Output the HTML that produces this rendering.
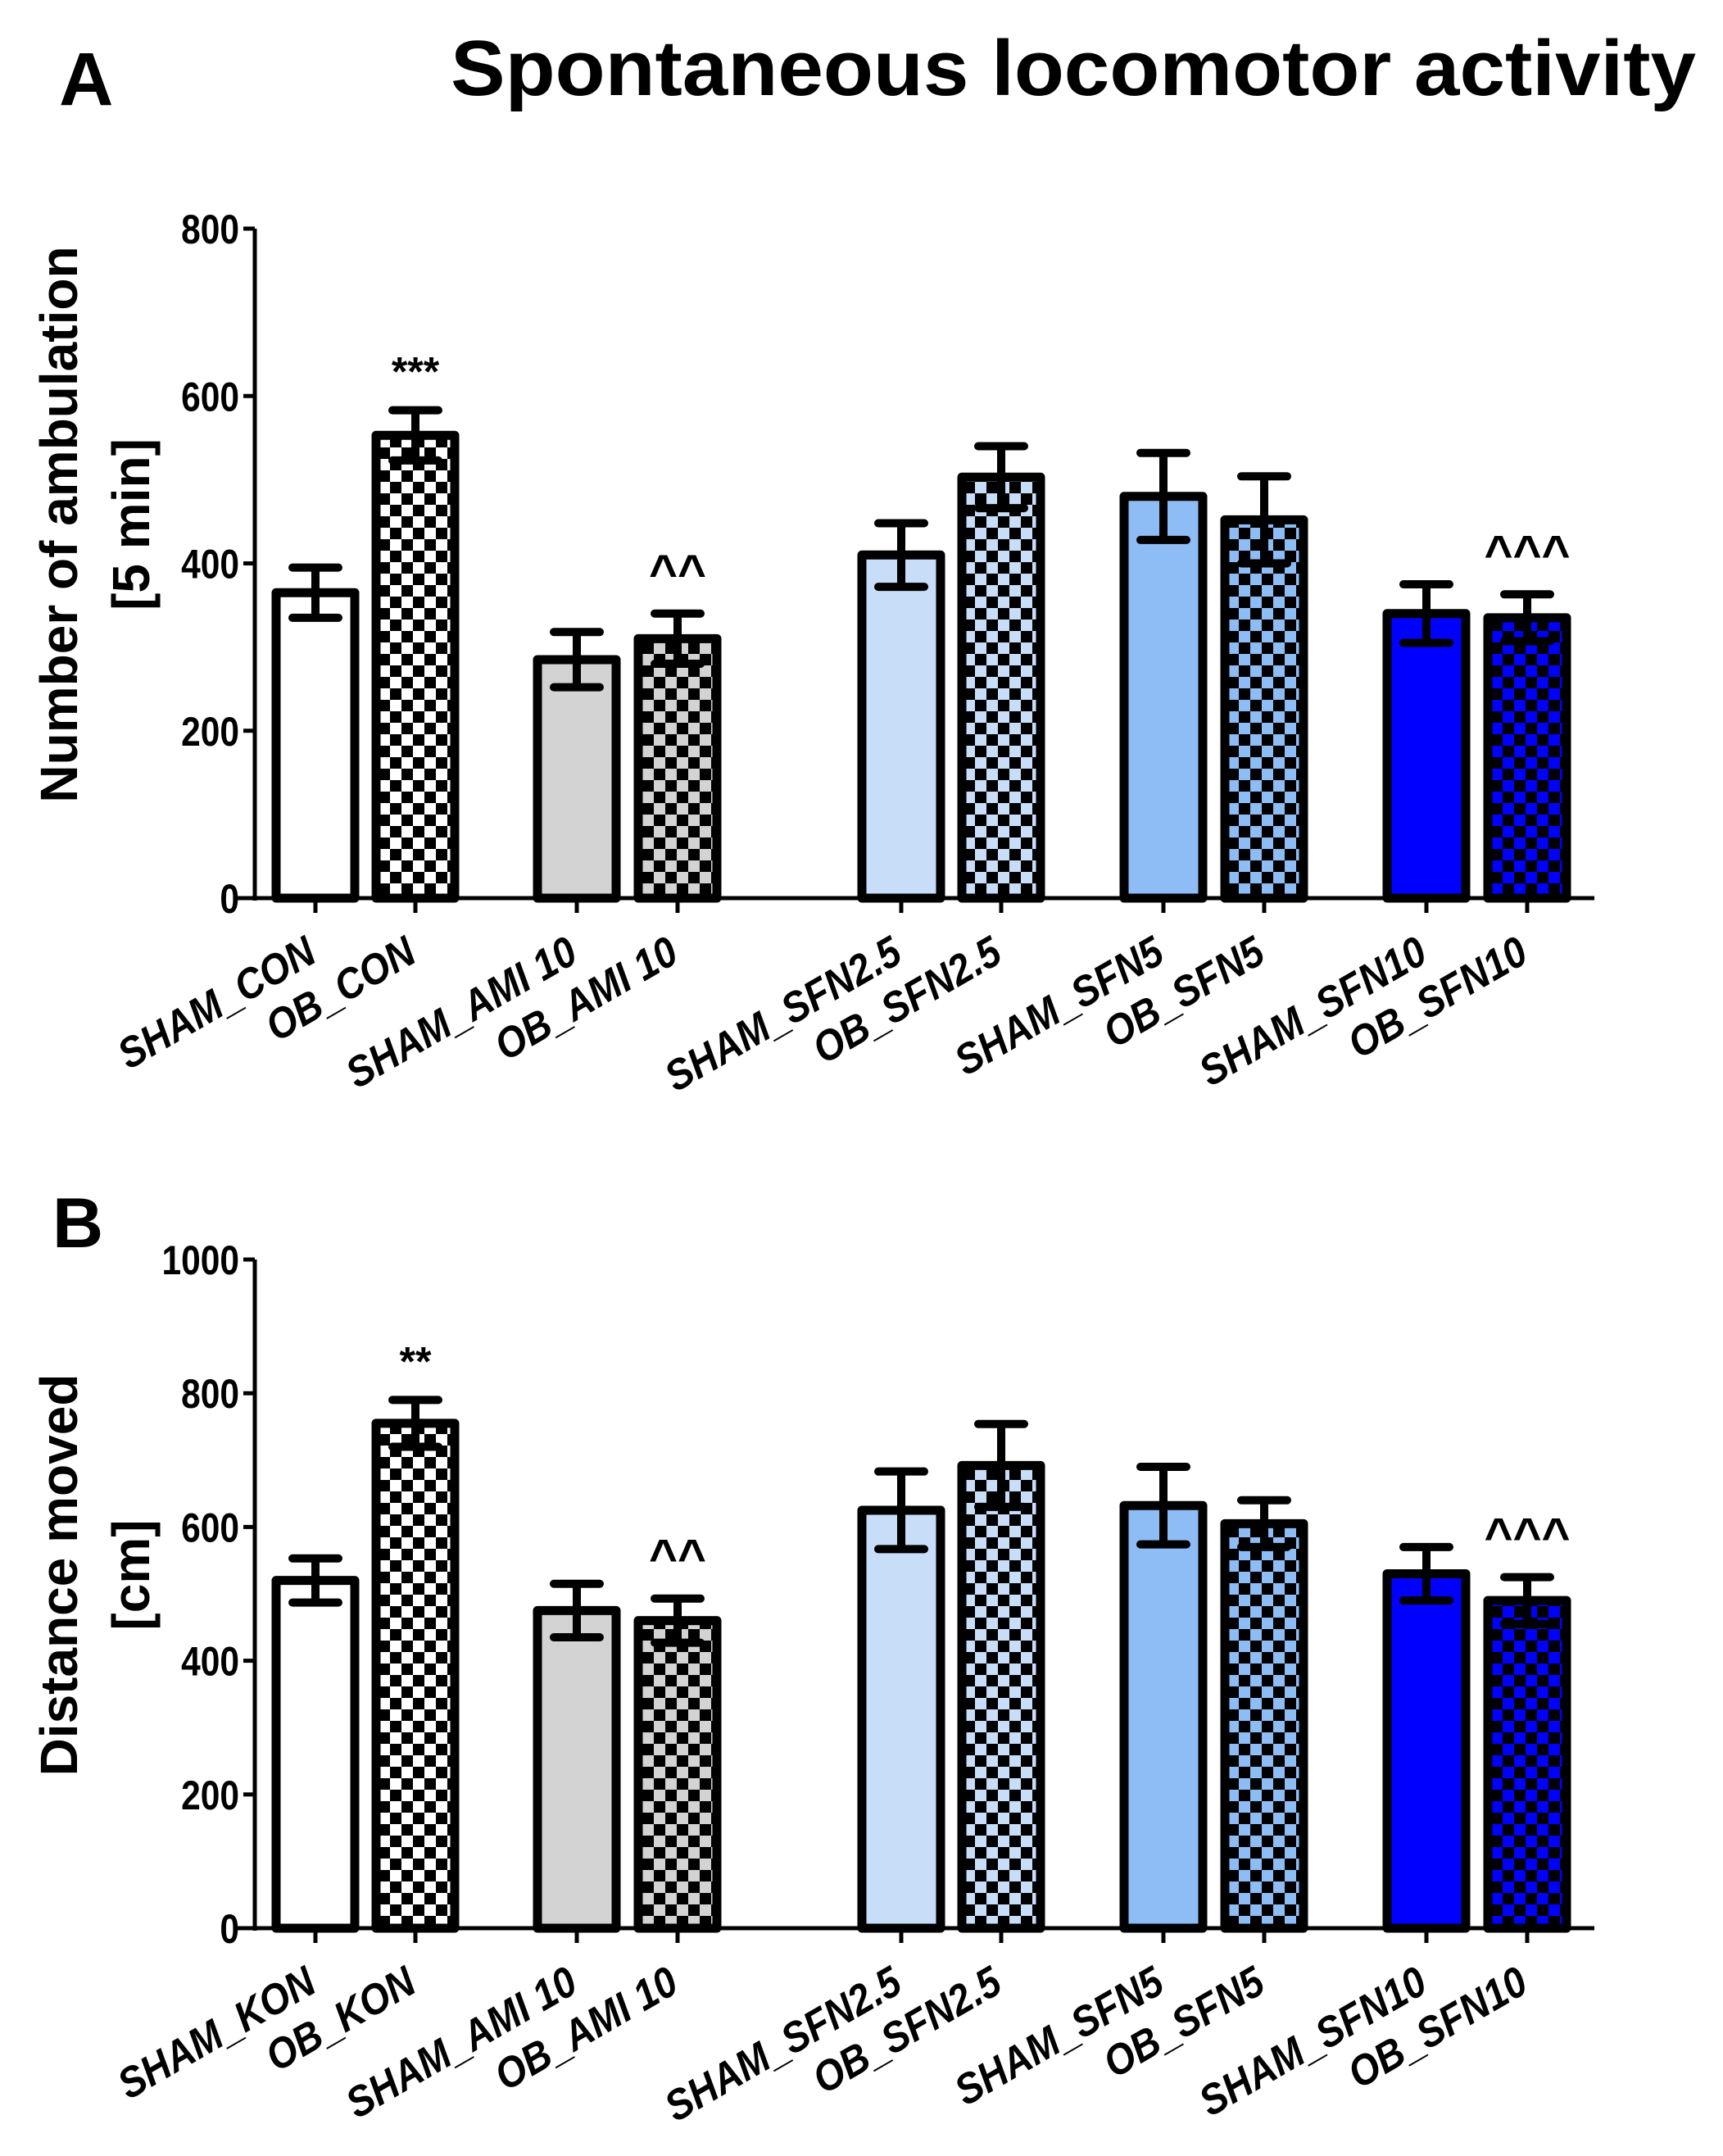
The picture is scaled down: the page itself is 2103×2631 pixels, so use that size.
<!DOCTYPE html>
<html><head><meta charset="utf-8"><style>
html,body{margin:0;padding:0;background:#fff;}
svg{display:block;}
text{font-family:"Liberation Sans",Arial,sans-serif;font-weight:bold;}
</style></head><body>
<svg id="chart" width="2103" height="2631" viewBox="0 0 2103 2631" xmlns="http://www.w3.org/2000/svg">
<defs>
<pattern id="chk-white" width="28" height="28" patternUnits="userSpaceOnUse"><rect width="28" height="28" fill="#fff"/><rect width="14" height="14" fill="#000"/><rect x="14" y="14" width="14" height="14" fill="#000"/></pattern>
<pattern id="chk-gray" width="28" height="28" patternUnits="userSpaceOnUse"><rect width="28" height="28" fill="#d3d3d3"/><rect width="14" height="14" fill="#000"/><rect x="14" y="14" width="14" height="14" fill="#000"/></pattern>
<pattern id="chk-light" width="28" height="28" patternUnits="userSpaceOnUse"><rect width="28" height="28" fill="#c8ddf8"/><rect width="14" height="14" fill="#000"/><rect x="14" y="14" width="14" height="14" fill="#000"/></pattern>
<pattern id="chk-mid" width="28" height="28" patternUnits="userSpaceOnUse"><rect width="28" height="28" fill="#8ebcf5"/><rect width="14" height="14" fill="#000"/><rect x="14" y="14" width="14" height="14" fill="#000"/></pattern>
<pattern id="chk-blue" width="28" height="28" patternUnits="userSpaceOnUse"><rect width="28" height="28" fill="#0000ff"/><rect width="14" height="14" fill="#000"/><rect x="14" y="14" width="14" height="14" fill="#000"/></pattern>
</defs>
<text x="72" y="128" font-size="92">A</text>
<text x="550" y="116" font-size="96" textLength="1520" lengthAdjust="spacingAndGlyphs">Spontaneous locomotor activity</text>
<text x="64" y="1522" font-size="86">B</text>
<g id="panelA"></g>
<g id="panelB"></g>
</svg>
<script>
const xPositions = [385, 507, 704, 827, 1100, 1222, 1420, 1543, 1741, 1864];
const labelsA = ["SHAM_CON","OB_CON","SHAM_AMI 10","OB_AMI 10","SHAM_SFN2.5","OB_SFN2.5","SHAM_SFN5","OB_SFN5","SHAM_SFN10","OB_SFN10"];
const labelsB = ["SHAM_KON","OB_KON","SHAM_AMI 10","OB_AMI 10","SHAM_SFN2.5","OB_SFN2.5","SHAM_SFN5","OB_SFN5","SHAM_SFN10","OB_SFN10"];
const valuesA = [365, 553, 285, 310, 410, 503, 480, 452, 340, 335];
const errorsA = [30, 30, 33, 30, 38, 37, 52, 52, 35, 28];
const valuesB = [520, 755, 475, 460, 625, 692, 632, 605, 530, 490];
const errorsB = [33, 35, 40, 33, 58, 62, 58, 35, 40, 35];
const ticksA = [0, 200, 400, 600, 800];
const ticksB = [0, 200, 400, 600, 800, 1000];
const marksA = ["", "***", "", "^^", "", "", "", "", "", "^^^"];
const marksB = ["", "**", "", "^^", "", "", "", "", "", "^^^"];
const fills = ["#ffffff","url(#chk-white)","#d3d3d3","url(#chk-gray)","#c8ddf8","url(#chk-light)","#8ebcf5","url(#chk-mid)","#0000ff","url(#chk-blue)"];
const NS = "http://www.w3.org/2000/svg";
function mk(parent, tag, attrs){const e=document.createElementNS(NS,tag);for(const k in attrs)e.setAttribute(k,attrs[k]);parent.appendChild(e);return e;}

function drawPanel(g, cfg){
  const y = v => cfg.y0 - (v - 0) / cfg.max * (cfg.y0 - cfg.yTop);
  const bw = 96;
  cfg.values.forEach((v,i)=>{
    const cx = xPositions[i];
    const r = mk(g,'rect',{x:cx-bw/2,y:y(v),width:bw,height:cfg.y0-y(v),fill:fills[i],stroke:'#000','stroke-width':11,'stroke-linejoin':'round'});
    
    
    const e = cfg.errors[i];
    const eb = mk(g,'path',{d:`M${cx},${y(v+e)}V${y(v-e)}M${cx-28},${y(v+e)}H${cx+28}M${cx-28},${y(v-e)}H${cx+28}`,stroke:'#000','stroke-width':10,'stroke-linecap':'round',fill:'none'});
    
    
    if(cfg.marks[i]){
      const t = mk(g,'text',{x:cx,y:y(v+e)-30,'font-size':cfg.marks[i][0]==='^'?60:50,'text-anchor':'middle'});
      t.textContent = cfg.marks[i];
      
      
    }
  });
  const ya = mk(g,'line',{x1:311,y1:cfg.yTop,x2:311,y2:cfg.y0+3,stroke:'#000','stroke-width':5});
  
  
  const xa = mk(g,'line',{x1:289,y1:cfg.y0,x2:1946,y2:cfg.y0,stroke:'#000','stroke-width':5});
  
  
  cfg.ticks.forEach(t=>{
    mk(g,'line',{x1:297,y1:y(t),x2:311,y2:y(t),stroke:'#000','stroke-width':5});
    const tx = mk(g,'text',{x:0,y:0,'font-size':50,'text-anchor':'end',transform:`translate(292 ${y(t)+18}) scale(0.85 1)`});
    tx.textContent = t;
    
    
  });
  xPositions.forEach((cx,i)=>{
    mk(g,'line',{x1:cx,y1:cfg.y0,x2:cx,y2:cfg.y0+18,stroke:'#000','stroke-width':5});
    const lx = cx+4, ly = cfg.y0+76;
    const t = mk(g,'text',{x:0,y:0,'font-size':52,'font-style':'italic','text-anchor':'end',transform:`translate(${lx} ${ly}) rotate(-30) scale(0.9 1)`});
    t.textContent = cfg.labels[i];
    
    
  });
  cfg.titles.forEach((s,k)=>{
    const tx = k===0?94:182, ty = cfg.titleY;
    const t = mk(g,'text',{x:tx,y:ty,'font-size':64,'text-anchor':'middle',transform:`rotate(-90 ${tx} ${ty})`});
    t.textContent = s;
    
    
  });
}
drawPanel(document.getElementById('panelA'),{y0:1096,yTop:279,max:800,values:valuesA,errors:errorsA,labels:labelsA,ticks:ticksA,marks:marksA,titles:["Number of ambulation","[5 min]"],titleY:640});
drawPanel(document.getElementById('panelB'),{y0:2353,yTop:1537,max:1000,values:valuesB,errors:errorsB,labels:labelsB,ticks:ticksB,marks:marksB,titles:["Distance moved","[cm]"],titleY:1922});
</script>
</body></html>
